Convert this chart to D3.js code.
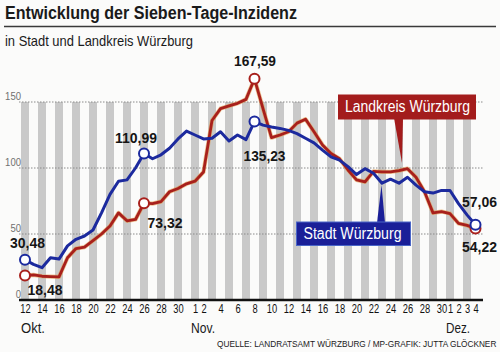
<!DOCTYPE html>
<html>
<head>
<meta charset="utf-8">
<script src="https://cdnjs.cloudflare.com/ajax/libs/d3/7.8.5/d3.min.js"></script>
<style>
  body { margin: 0; background: #fbfbfa; }
  svg { display: block; }
</style>
</head>
<body>
<div id="chart-container"></div>
<script>

// Sieben-Tage-Inzidenz, 12. Okt. bis 4. Dez. (ein Wert pro Tag)
let startDate = "2020-10-12";
let endDate = "2020-12-04";

let stadtWerte = [30.48, 27, 24.5, 32, 31, 41, 46, 48.5, 53, 66, 80, 90, 91, 100,
    110.99, 107, 110, 115, 122, 128, 125, 122, 122.5, 127.5, 120.5, 125, 121.5,
    135.23, 132.5, 131, 130, 128.5, 126, 122.5, 119, 113.5, 108.5, 106, 101, 95,
    99.5, 96, 88.5, 91.5, 88.5, 93, 87, 82, 81, 83, 83, 73, 64.5, 57.06];

let landkreisWerte = [18.48, 19, 18, 17.7, 17.5, 32, 39, 40, 45, 50, 56, 66, 60, 61,
    73.32, 73, 74.5, 82, 84.5, 88, 90, 97, 136, 145, 147, 149, 152,
    167.59, 145, 123, 125, 127.5, 134, 137, 127.5, 117.5, 111, 107, 98.5, 91,
    89.5, 97.5, 97, 97, 98, 99.5, 93, 82, 66, 67, 65.5, 58, 56.5, 54.22];

let tickDates = ["2020-10-12", "2020-10-14", "2020-10-16", "2020-10-18", "2020-10-20",
    "2020-10-22", "2020-10-24", "2020-10-26", "2020-10-28", "2020-10-30",
    "2020-11-01", "2020-11-02", "2020-11-04", "2020-11-06", "2020-11-08", "2020-11-10",
    "2020-11-12", "2020-11-14", "2020-11-16", "2020-11-18", "2020-11-20", "2020-11-22",
    "2020-11-24", "2020-11-26", "2020-11-28", "2020-11-30",
    "2020-12-01", "2020-12-02", "2020-12-03", "2020-12-04"];

let monate = ["Okt.", "Nov.", "Dez."];
let monatsStart = ["2020-10-12", "2020-11-01", "2020-12-01"];

let yTicks = [0, 50, 100, 150];

// Tage mit Kreis-Markierung und Zahl
let markierteTage = ["2020-10-12", "2020-10-26", "2020-11-08", "2020-12-04"];

let w = 500, h = 352;
let font = "'Liberation Sans', Arial, sans-serif";
let parse = d3.timeParse("%Y-%m-%d");

let tage = d3.timeDay.range(parse(startDate), d3.timeDay.offset(parse(endDate), 1));

let stadt = tage.map((d, i) => ({ date: d, v: stadtWerte[i] }));
let landkreis = tage.map((d, i) => ({ date: d, v: landkreisWerte[i] }));

const svg = d3.select("#chart-container")
    .append("svg")
    .attr("width", w)
    .attr("height", h)
    .style("font-family", font);

let xScale = d3.scaleTime()
    .domain([parse(startDate), parse(endDate)])
    .range([25, 475.5]);

let yScale = d3.scaleLinear()
    .domain([0, 150])
    .range([300, 102]);

// schmale Schrift gibt es nicht -> text auf feste breite bringen
let fit = function (sel, width) {
    sel.attr("textLength", width).attr("lengthAdjust", "spacingAndGlyphs");
    return sel;
};
let fitPerChar = function (sel, px) {
    sel.each(function () {
        d3.select(this)
            .attr("textLength", this.textContent.length * px)
            .attr("lengthAdjust", "spacingAndGlyphs");
    });
    return sel;
};

// Titel
svg.append("text")
    .attr("x", 5)
    .attr("y", 19)
    .style("font-size", "18px")
    .style("font-weight", "bold")
    .style("fill", "#1a1a1a")
    .text("Entwicklung der Sieben-Tage-Inzidenz")
    .call(fit, 292);

svg.append("line")
    .attr("x1", 4).attr("x2", 496)
    .attr("y1", 26.5).attr("y2", 26.5)
    .style("stroke", "#3a3a3a")
    .style("stroke-width", 1.4);

svg.append("text")
    .attr("x", 5)
    .attr("y", 46)
    .style("font-size", "14.5px")
    .style("fill", "#1a1a1a")
    .text("in Stadt und Landkreis Würzburg")
    .call(fit, 188);

// graue Streifen, jeder zweite Tag
svg.selectAll(".streifen")
    .data(tage.filter((d, i) => i % 2 == 0))
    .enter()
    .append("rect")
    .attr("class", "streifen")
    .attr("x", d => xScale(d) - 4)
    .attr("width", 8)
    .attr("y", yScale(150))
    .attr("height", yScale(0) - yScale(150))
    .style("fill", "#c9c9c9");

// gepunktete Hilfslinien
svg.selectAll(".grid")
    .data(yTicks.filter(d => d > 0))
    .enter()
    .append("line")
    .attr("class", "grid")
    .attr("x1", 19)
    .attr("x2", 484)
    .attr("y1", d => yScale(d))
    .attr("y2", d => yScale(d))
    .style("stroke", "#8a8a8a")
    .style("stroke-width", 1)
    .style("stroke-dasharray", "1.5,1.5");

svg.selectAll(".ylabel")
    .data(yTicks)
    .enter()
    .append("text")
    .attr("class", "ylabel")
    .attr("x", 21)
    .attr("y", d => yScale(d) - 2)
    .style("text-anchor", "end")
    .style("font-size", "11px")
    .style("fill", "#707070")
    .text(d => d)
    .call(fitPerChar, 5.3);

// x-Achse
const xAxis = d3.axisBottom(xScale)
    .tickValues(tickDates.map(parse))
    .tickFormat(d3.timeFormat("%-d"))
    .tickSize(0)
    .tickPadding(4);

let xg = svg.append("g")
    .attr("id", "x-axis")
    .attr("transform", "translate(0," + yScale(0) + ")")
    .call(xAxis);

xg.select(".domain").remove();
xg.selectAll("text")
    .style("font-family", font)
    .style("font-size", "12px")
    .style("fill", "#111")
    .call(fitPerChar, 5.2);

svg.append("line")
    .attr("x1", 19).attr("x2", 483)
    .attr("y1", yScale(0)).attr("y2", yScale(0))
    .style("stroke", "#111")
    .style("stroke-width", 2.4);

svg.selectAll(".monat")
    .data(monate)
    .enter()
    .append("text")
    .attr("class", "monat")
    .attr("x", (d, i) => xScale(parse(monatsStart[i])) - 4)
    .attr("y", 333)
    .style("font-size", "14.5px")
    .style("fill", "#1a1a1a")
    .text(d => d)
    .call(fit, 24);

// Linien
let line = d3.line()
    .x(d => xScale(d.date))
    .y(d => yScale(d.v));

svg.append("path")
    .datum(landkreis)
    .attr("d", line)
    .style("fill", "none")
    .style("stroke", "#e29a4a")
    .style("stroke-width", 4.2)
    .style("stroke-opacity", 0.6)
    .style("stroke-linejoin", "round");

svg.append("path")
    .datum(landkreis)
    .attr("d", line)
    .style("fill", "none")
    .style("stroke", "#a8201c")
    .style("stroke-width", 2.8)
    .style("stroke-linejoin", "round");

svg.append("path")
    .datum(stadt)
    .attr("d", line)
    .style("fill", "none")
    .style("stroke", "#1c2a9e")
    .style("stroke-width", 3)
    .style("stroke-linejoin", "round");

// Kreise
let farben = { stadt: "#1c2a9e", landkreis: "#a8201c" };
let markiert = markierteTage.map(s => +parse(s));

[["landkreis", landkreis], ["stadt", stadt]].forEach(function (serie) {
    svg.selectAll(".punkt-" + serie[0])
        .data(serie[1].filter(d => markiert.includes(+d.date)))
        .enter()
        .append("circle")
        .attr("class", "punkt-" + serie[0])
        .attr("cx", d => xScale(d.date))
        .attr("cy", d => yScale(d.v))
        .attr("r", 5)
        .style("fill", "#fff")
        .style("stroke", farben[serie[0]])
        .style("stroke-width", 2);
});

// Zahlen an den Kreisen (dx, dy relativ zum Kreis)
let fmt = d => d.v.toFixed(2).replace(".", ",");
let stadtOffsets = [[2.5, -12], [-8, -10.5], [10, 40], [4, -18]];
let landOffsets = [[20, 19.5], [21, 25], [0.5, -13], [4, 24]];

let zahlen = stadt.filter(d => markiert.includes(+d.date)).map((d, i) => [d, stadtOffsets[i]])
    .concat(landkreis.filter(d => markiert.includes(+d.date)).map((d, i) => [d, landOffsets[i]]));

svg.selectAll(".zahl")
    .data(zahlen)
    .enter()
    .append("text")
    .attr("class", "zahl")
    .attr("x", d => xScale(d[0].date) + d[1][0])
    .attr("y", d => yScale(d[0].v) + d[1][1])
    .style("text-anchor", "middle")
    .style("font-size", "15px")
    .style("font-weight", "bold")
    .style("fill", "#151515")
    .text(d => fmt(d[0]))
    .call(fitPerChar, 7);

// Beschriftungskasten Landkreis
svg.append("path")
    .attr("d", "M394,118 L403,118 L402,163 Z")
    .style("fill", "#a31c1c");

svg.append("rect")
    .attr("x", 338).attr("y", 94.5)
    .attr("width", 138).attr("height", 25)
    .style("fill", "#a31c1c");

svg.append("text")
    .attr("x", 345).attr("y", 112)
    .style("font-size", "16px")
    .style("fill", "#fff")
    .text("Landkreis Würzburg")
    .call(fit, 125);

// Beschriftungskasten Stadt
svg.append("path")
    .attr("d", "M377,223 L385,223 L381.5,185 Z")
    .style("fill", "#1a1f98");

svg.append("rect")
    .attr("x", 296.5).attr("y", 222)
    .attr("width", 114).attr("height", 23.5)
    .style("fill", "#1a1f98")
    .style("stroke", "#4a66c8")
    .style("stroke-width", 1);

svg.append("text")
    .attr("x", 303.5).attr("y", 238.5)
    .style("font-size", "16px")
    .style("fill", "#fff")
    .text("Stadt Würzburg")
    .call(fit, 98);

// Quelle - hier per scale schmaler machen, damit sie rechts nicht rausläuft
let quelle = svg.append("text")
    .attr("x", 0)
    .attr("y", 0)
    .style("font-size", "9px")
    .style("fill", "#1a1a1a")
    .text("QUELLE: LANDRATSAMT WÜRZBURG / MP-GRAFIK: JUTTA GLÖCKNER");

let qLen = quelle.node().getComputedTextLength();
quelle.attr("transform", "translate(217,346.5) scale(" + (280 / qLen) + ",1)");

</script>
</body>
</html>
